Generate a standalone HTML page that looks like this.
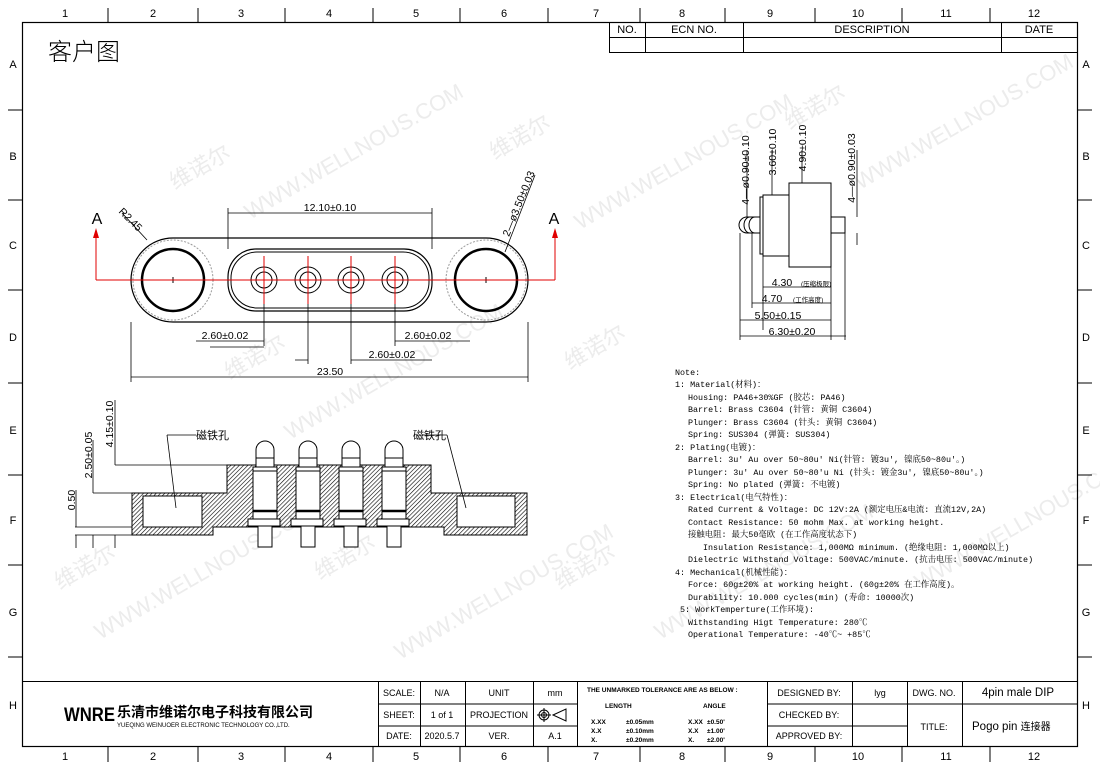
<!DOCTYPE html>
<html><head><meta charset="utf-8"><style>
body{margin:0;background:#fff}
svg{display:block}
text{font-family:"Liberation Sans","Noto Sans CJK SC",sans-serif}
.n text{font-family:"Liberation Mono","Noto Serif CJK SC",monospace;font-size:8.4px}
.wm text{fill:#ececec;font-size:22px}
</style></head><body>
<svg width="1100" height="768" viewBox="0 0 1100 768" xmlns="http://www.w3.org/2000/svg">
<defs>
<pattern id="h" width="3" height="3" patternUnits="userSpaceOnUse" patternTransform="rotate(45)"><line x1="0" y1="0" x2="0" y2="3" stroke="#000" stroke-width="1.2"/></pattern>
</defs>
<g class="wm">
<text transform="translate(175,190) rotate(-30)">维诺尔</text>
<text transform="translate(250,220) rotate(-30)">WWW.WELLNOUS.COM</text>
<text transform="translate(495,160) rotate(-30)">维诺尔</text>
<text transform="translate(580,230) rotate(-30)">WWW.WELLNOUS.COM</text>
<text transform="translate(790,130) rotate(-30)">维诺尔</text>
<text transform="translate(860,190) rotate(-30)">WWW.WELLNOUS.COM</text>
<text transform="translate(230,380) rotate(-30)">维诺尔</text>
<text transform="translate(290,440) rotate(-30)">WWW.WELLNOUS.COM</text>
<text transform="translate(570,370) rotate(-30)">维诺尔</text>
<text transform="translate(60,590) rotate(-30)">维诺尔</text>
<text transform="translate(100,640) rotate(-30)">WWW.WELLNOUS.COM</text>
<text transform="translate(320,580) rotate(-30)">维诺尔</text>
<text transform="translate(400,660) rotate(-30)">WWW.WELLNOUS.COM</text>
<text transform="translate(560,590) rotate(-30)">维诺尔</text>
<text transform="translate(660,640) rotate(-30)">WWW.WELLNOUS.COM</text>
<text transform="translate(920,590) rotate(-30)">WWW.WELLNOUS.COM</text>
</g>
<rect x="22.5" y="22.5" width="1055" height="724" fill="none" stroke="#000" stroke-width="1.2"/>
<g stroke="#000" stroke-width="1">
<path d="M108 8V22M198 8V22M285 8V22M373 8V22M460 8V22M548 8V22M640 8V22M725 8V22M815 8V22M902 8V22M990 8V22"/>
<path d="M108 746V762M198 746V762M285 746V762M373 746V762M460 746V762M548 746V762M640 746V762M725 746V762M815 746V762M902 746V762M990 746V762"/>
<path d="M8 110H22M8 200H22M8 290H22M8 383H22M8 475H22M8 565H22M8 657H22"/>
<path d="M1077 110H1092M1077 200H1092M1077 290H1092M1077 383H1092M1077 475H1092M1077 565H1092M1077 657H1092"/>
</g>
<g font-size="11" text-anchor="middle">
<text x="65" y="17">1</text><text x="153" y="17">2</text><text x="241" y="17">3</text><text x="329" y="17">4</text><text x="416" y="17">5</text><text x="504" y="17">6</text><text x="596" y="17">7</text><text x="682" y="17">8</text><text x="770" y="17">9</text><text x="858" y="17">10</text><text x="946" y="17">11</text><text x="1034" y="17">12</text>
<text x="65" y="760">1</text><text x="153" y="760">2</text><text x="241" y="760">3</text><text x="329" y="760">4</text><text x="416" y="760">5</text><text x="504" y="760">6</text><text x="596" y="760">7</text><text x="682" y="760">8</text><text x="770" y="760">9</text><text x="858" y="760">10</text><text x="946" y="760">11</text><text x="1034" y="760">12</text>
<text x="13" y="68">A</text><text x="13" y="160">B</text><text x="13" y="249">C</text><text x="13" y="341">D</text><text x="13" y="434">E</text><text x="13" y="524">F</text><text x="13" y="616">G</text><text x="13" y="709">H</text>
<text x="1086" y="68">A</text><text x="1086" y="160">B</text><text x="1086" y="249">C</text><text x="1086" y="341">D</text><text x="1086" y="434">E</text><text x="1086" y="524">F</text><text x="1086" y="616">G</text><text x="1086" y="709">H</text>
</g>
<text x="48" y="60" font-size="24" style="font-family:'Noto Sans CJK SC',sans-serif" font-weight="300">客户图</text>
<g stroke="#000" fill="none" stroke-width="1">
<rect x="609.5" y="22.5" width="468" height="30"/>
<path d="M609 37.5H1077M645.5 22V52M743.5 22V52M1001.5 22V52"/>
</g>
<g font-size="11" text-anchor="middle"><text x="627" y="33">NO.</text><text x="694" y="33">ECN NO.</text><text x="872" y="33">DESCRIPTION</text><text x="1039" y="33">DATE</text></g>

<g fill="none" stroke="#000">
<rect x="131" y="238" width="397" height="84" rx="42" stroke-width="1.2"/>
<circle cx="173" cy="280" r="31" stroke-width="2.5"/>
<circle cx="486" cy="280" r="31" stroke-width="2.5"/>
<circle cx="173" cy="280" r="40" stroke="#999" stroke-dasharray="2 1.5"/>
<circle cx="486" cy="280" r="40" stroke="#999" stroke-dasharray="2 1.5"/>
<rect x="228" y="249" width="204" height="62" rx="28" stroke-width="1.2"/>
<rect x="231" y="252" width="198" height="56" rx="26"/>
<circle cx="264" cy="280" r="13"/><circle cx="264" cy="280" r="8"/>
<circle cx="308" cy="280" r="13"/><circle cx="308" cy="280" r="8"/>
<circle cx="351" cy="280" r="13"/><circle cx="351" cy="280" r="8"/>
<circle cx="395" cy="280" r="13"/><circle cx="395" cy="280" r="8"/>
<path d="M170 280h6M173 277v6M483 280h6M486 277v6"/>
</g>
<g stroke="#e00000" fill="none" stroke-width="1">
<path d="M96 280H555M96 280V235M555 280V235"/>
<path d="M264 256V304M308 256V304M351 256V304M395 256V304"/>
</g>
<path d="M96 228l-3 10h6zM555 228l-3 10h6z" fill="#e00000"/>
<g font-size="16" text-anchor="middle"><text x="97" y="224">A</text><text x="554" y="224">A</text></g>
<g stroke="#000" fill="none" stroke-width="0.8">
<path d="M228 249V208M432 249V208M228 213H432"/>
<path d="M131 322V382M528 322V382M131 377H528"/>
<path d="M264 304V346M308 304V364M351 304V364M395 304V346"/>
<path d="M196 341H264M395 341H470M210 347H264"/>
<path d="M308 360H295M351 360H432"/>
<path d="M122 213L147 240"/>
<path d="M505 252L535 175"/>
</g>
<g font-size="10.5" text-anchor="middle">
<text x="330" y="211">12.10±0.10</text>
<text x="225" y="339">2.60±0.02</text>
<text x="428" y="339">2.60±0.02</text>
<text x="392" y="358">2.60±0.02</text>
<text x="330" y="375">23.50</text>
<text transform="translate(128,222) rotate(45)">R2.45</text>
<text transform="translate(522,205) rotate(-68)">2—ø3.50±0.03</text>
</g>

<g stroke="#000" stroke-width="1">
<path d="M132 493H227V465H431V493H527V535H444V527H213V535H132Z" fill="url(#h)"/>
<rect x="143" y="496" width="59" height="31" fill="#fff"/>
<rect x="457" y="496" width="58" height="31" fill="#fff"/>
<g fill="#fff">
<rect x="253" y="467" width="24" height="52"/><rect x="296" y="467" width="24" height="52"/><rect x="339" y="467" width="24" height="52"/><rect x="382" y="467" width="24" height="52"/>
<path d="M256 467V450a9 9 0 0 1 18 0V467Z"/><path d="M299 467V450a9 9 0 0 1 18 0V467Z"/><path d="M342 467V450a9 9 0 0 1 18 0V467Z"/><path d="M385 467V450a9 9 0 0 1 18 0V467Z"/>
<rect x="248" y="519" width="32" height="7"/><rect x="291" y="519" width="32" height="7"/><rect x="334" y="519" width="32" height="7"/><rect x="377" y="519" width="32" height="7"/>
<rect x="258" y="526" width="14" height="21"/><rect x="301" y="526" width="14" height="21"/><rect x="344" y="526" width="14" height="21"/><rect x="387" y="526" width="14" height="21"/>
</g>
<path d="M253 511H277M296 511H320M339 511H363M382 511H406" stroke-width="2.5"/>
<path d="M253 471H277M296 471H320M339 471H363M382 471H406"/>
<path d="M256 458H274M299 458H317M342 458H360M385 458H403"/>
</g>
<g stroke="#000" fill="none" stroke-width="0.8">
<path d="M227 465H115M227 493H93M132 527H75M132 535H75"/>
<path d="M115 465V400M93 493V440M76 527V490M76 535V548M93 535V548M115 535V548"/>
<path d="M167 435H196M167 435L176 508M422 435H447M447 435L466 508"/>
</g>
<g font-size="10.5" text-anchor="middle">
<text transform="translate(113,424) rotate(-90)">4.15±0.10</text>
<text transform="translate(92,455) rotate(-90)">2.50±0.05</text>
<text transform="translate(75,500) rotate(-90)">0.50</text>
</g>
<g font-size="11"><text x="196" y="439">磁铁孔</text><text x="413" y="439">磁铁孔</text></g>

<g stroke="#000" fill="#fff" stroke-width="1">
<rect x="789" y="183" width="42" height="84"/>
<rect x="763" y="195" width="26" height="61"/>
<rect x="760" y="197" width="3" height="57"/>
<path d="M760 217H747a8 8 0 0 0 0 16H760Z"/>
<path d="M750 217a6 8 0 0 0 0 16M755 217a6 8 0 0 0 0 16" fill="none"/>
<rect x="831" y="217" width="14" height="16"/>
</g>
<g stroke="#000" fill="none" stroke-width="0.8">
<path d="M763 256V330M831 267V340M752 233V308M740 233V340M845 233V340"/>
<path d="M763 287H831M752 303H831M740 320H831M740 336H846"/>
<path d="M747 217V150M772 195V150M802 183V150M857 217V150M857 233V245"/>
</g>
<g font-size="10.5" text-anchor="middle">
<text x="782" y="286">4.30</text><text x="772" y="302">4.70</text><text x="778" y="319">5.50±0.15</text><text x="792" y="335">6.30±0.20</text>
<text transform="translate(749,170) rotate(-90)">4—ø0.90±0.10</text>
<text transform="translate(776,152) rotate(-90)">3.60±0.10</text>
<text transform="translate(806,148) rotate(-90)">4.90±0.10</text>
<text transform="translate(855,168) rotate(-90)">4—ø0.90±0.03</text>
</g>
<g font-size="6.5"><text x="801" y="286">(压缩极限)</text><text x="793" y="302">(工作高度)</text></g>

<g class="n">
<text x="675" y="375">Note:</text>
<text x="675" y="387">1: Material(材料)：</text>
<text x="688" y="400">Housing: PA46+30%GF (胶芯: PA46)</text>
<text x="688" y="412">Barrel: Brass C3604 (针管: 黄铜 C3604)</text>
<text x="688" y="425">Plunger: Brass C3604  (针头: 黄铜 C3604)</text>
<text x="688" y="437">Spring: SUS304  (弹簧: SUS304)</text>
<text x="675" y="450">2: Plating(电镀)：</text>
<text x="688" y="462">Barrel: 3u' Au over 50~80u' Ni(针管: 镀3u', 镍底50~80u'。)</text>
<text x="688" y="475">Plunger: 3u' Au over 50~80'u Ni (针头: 镀金3u', 镍底50~80u'。)</text>
<text x="688" y="487">Spring: No plated (弹簧: 不电镀)</text>
<text x="675" y="500">3: Electrical(电气特性)：</text>
<text x="688" y="512">Rated Current &amp; Voltage: DC 12V:2A (额定电压&amp;电流: 直流12V,2A)</text>
<text x="688" y="525">Contact Resistance: 50 mohm Max. at working height.</text>
<text x="688" y="537">接触电阻: 最大50毫欧 (在工作高度状态下)</text>
<text x="703" y="550">Insulation Resistance: 1,000MΩ minimum. (绝缘电阻: 1,000MΩ以上)</text>
<text x="688" y="562">Dielectric Withstand Voltage: 500VAC/minute. (抗击电压: 500VAC/minute)</text>
<text x="675" y="575">4: Mechanical(机械性能)：</text>
<text x="688" y="587">Force: 60g±20% at working height. (60g±20% 在工作高度)。</text>
<text x="688" y="600">Durability: 10.000 cycles(min) (寿命: 10000次)</text>
<text x="680" y="612">5: WorkTemperture(工作环境):</text>
<text x="688" y="625">Withstanding Higt Temperature: 280℃</text>
<text x="688" y="637">Operational Temperature: -40℃~ +85℃</text>
</g>

<g stroke="#000" fill="none" stroke-width="1">
<path d="M22 681.5H1077"/>
<path d="M378.5 681V746M420.5 681V746M465.5 681V746M533.5 681V746M577.5 681V746M767.5 681V746M852.5 681V746M907.5 681V746M962.5 681V746"/>
<path d="M378 704H577M378 726H577M767 704H907M767 726H907M907 704H1077"/>
</g>
<g font-size="9" text-anchor="middle">
<text x="399" y="696">SCALE:</text><text x="442" y="696">N/A</text><text x="499" y="696">UNIT</text><text x="555" y="696">mm</text>
<text x="399" y="718">SHEET:</text><text x="442" y="718">1 of 1</text><text x="499" y="718">PROJECTION</text>
<text x="399" y="739">DATE:</text><text x="442" y="739">2020.5.7</text><text x="499" y="739">VER.</text><text x="555" y="739">A.1</text>
<text x="809" y="696">DESIGNED BY:</text><text x="880" y="696">lyg</text><text x="934" y="696">DWG. NO.</text>
<text x="809" y="718">CHECKED BY:</text><text x="809" y="739">APPROVED BY:</text><text x="934" y="730">TITLE:</text>
</g>
<text x="1018" y="696" font-size="11.5" text-anchor="middle">4pin male DIP</text>
<text x="972" y="730" font-size="11.5">Pogo  pin <tspan font-size="10">连接器</tspan></text>
<g font-size="6.5" font-weight="bold">
<text x="587" y="692">THE UNMARKED TOLERANCE ARE AS BELOW :</text>
<text x="605" y="708">LENGTH</text><text x="703" y="708">ANGLE</text>
<text x="591" y="724">X.XX</text><text x="626" y="724">±0.05mm</text><text x="688" y="724">X.XX</text><text x="707" y="724">±0.50'</text>
<text x="591" y="733">X.X</text><text x="626" y="733">±0.10mm</text><text x="688" y="733">X.X</text><text x="707" y="733">±1.00'</text>
<text x="591" y="742">X.</text><text x="626" y="742">±0.20mm</text><text x="688" y="742">X.</text><text x="707" y="742">±2.00'</text>
</g>
<g stroke="#000" fill="none"><circle cx="544" cy="715" r="5"/><circle cx="544" cy="715" r="2.5"/><path d="M537 715H551M544 708V722M553 715L566 709V721Z"/></g>
<text x="64" y="721" font-size="19" font-weight="bold" textLength="51" lengthAdjust="spacingAndGlyphs">WNRE</text>
<text x="117" y="717" font-size="14" font-weight="bold">乐清市维诺尔电子科技有限公司</text>
<text x="117" y="727" font-size="6">YUEQING WEINUOER ELECTRONIC TECHNOLOGY CO.,LTD.</text>
</svg>
</body></html>
